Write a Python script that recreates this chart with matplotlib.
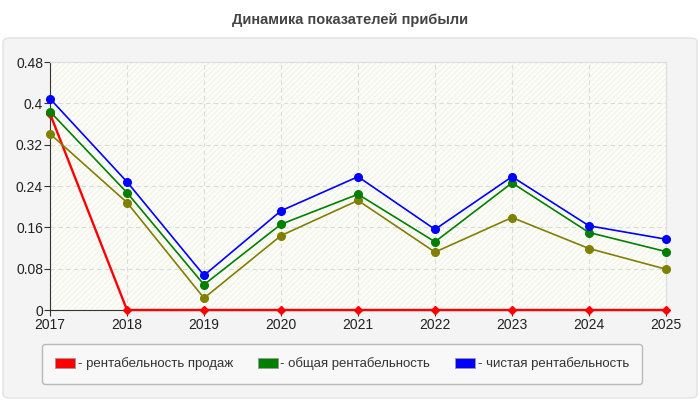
import matplotlib
matplotlib.use('Agg')
import matplotlib.pyplot as plt
from matplotlib.patches import FancyBboxPatch, Rectangle

plt.rcParams['font.family'] = ['Liberation Sans', 'DejaVu Sans']
plt.rcParams['hatch.linewidth'] = 0.6

# data
years = [2017, 2018, 2019, 2020, 2021, 2022, 2023, 2024, 2025]
sales_margin = [0.38, 0, 0, 0, 0, 0, 0, 0, 0]
total_margin = [0.384, 0.227, 0.049, 0.166, 0.224, 0.132, 0.246, 0.150, 0.113]
net_margin = [0.409, 0.248, 0.067, 0.192, 0.258, 0.156, 0.258, 0.163, 0.137]
other_margin = [0.341, 0.208, 0.023, 0.144, 0.212, 0.112, 0.179, 0.119, 0.079]
yticks = [0, 0.08, 0.16, 0.24, 0.32, 0.4, 0.48]
ytick_labels = ['0', '0.08', '0.16', '0.24', '0.32', '0.4', '0.48']
title = 'Динамика показателей прибыли'
legend_labels = ['- рентабельность продаж', '- общая рентабельность', '- чистая рентабельность']

W, H = 700, 400
fig = plt.figure(figsize=(7, 4), dpi=100)
fig.patch.set_facecolor('white')

# grey panel behind the chart
panel = FancyBboxPatch((3 / W, 2 / H), 694 / W, 360 / H,
                       boxstyle='round,pad=0,rounding_size=0.01',
                       transform=fig.transFigure, facecolor='#f4f4f4',
                       edgecolor='#e2e2e2', linewidth=1, zorder=-10)
fig.patches.append(panel)

fig.text(0.5, 1 - 20 / H, title, ha='center', va='center',
         fontsize=10.5, fontweight='bold', color='#444444')

ax = fig.add_axes([50 / W, 90 / H, 616 / W, 248 / H])
ax.set_facecolor('#fdfdf7')
ax.add_patch(Rectangle((0, 0), 1, 1, transform=ax.transAxes, facecolor='none',
                       edgecolor='#efefea', hatch='//////', linewidth=0, zorder=0))

ax.set_xlim(years[0], years[-1])
ax.set_ylim(0, 0.48)
ax.set_xticks(years)
ax.set_xticklabels([str(y) for y in years])
ax.set_yticks(yticks)
ax.set_yticklabels(ytick_labels)
ax.grid(True, color='#dcdcdc', linestyle=(0, (4, 3)), linewidth=0.8)
ax.set_axisbelow(True)
for s in ['top', 'right']:
    ax.spines[s].set_color('#dddddd')
for s in ['left', 'bottom']:
    ax.spines[s].set_color('#333333')
ax.tick_params(length=4, color='#333333', labelsize=10, labelcolor='#222222')
ax.tick_params(axis='x', pad=2)
ax.tick_params(axis='y', pad=1)

# red sits over the axis line but under the other markers at 2017
ax.plot(years, sales_margin, color='#ff0000', marker='D', markersize=4.5, linewidth=1.7, zorder=2.6, clip_on=False)
ax.plot(years, other_margin, color='#808000', marker='o', markersize=5.5, linewidth=1.2, zorder=3, clip_on=False)
ax.plot(years, total_margin, color='#008000', marker='o', markersize=5.5, linewidth=1.2, zorder=4, clip_on=False)
ax.plot(years, net_margin, color='#0000ff', marker='o', markersize=5.5, linewidth=1.2, zorder=5, clip_on=False)

handles = [Rectangle((0, 0), 1, 1, facecolor=c, edgecolor='#999999', linewidth=0.6)
           for c in ['#ff0000', '#008000', '#0000ff']]
leg = fig.legend(handles, legend_labels, loc='center', bbox_to_anchor=(342 / W, 1 - 364 / H),
                 ncol=3, frameon=True, fontsize=9.5, handlelength=1.5, handleheight=0.8,
                 handletextpad=0.2, columnspacing=1.9, borderpad=1.0, fancybox=True)
leg.get_frame().set_facecolor('#fafafa')
leg.get_frame().set_edgecolor('#aaaaaa')
for t in leg.get_texts():
    t.set_color('#333333')

fig.savefig('out.png', dpi=100)
